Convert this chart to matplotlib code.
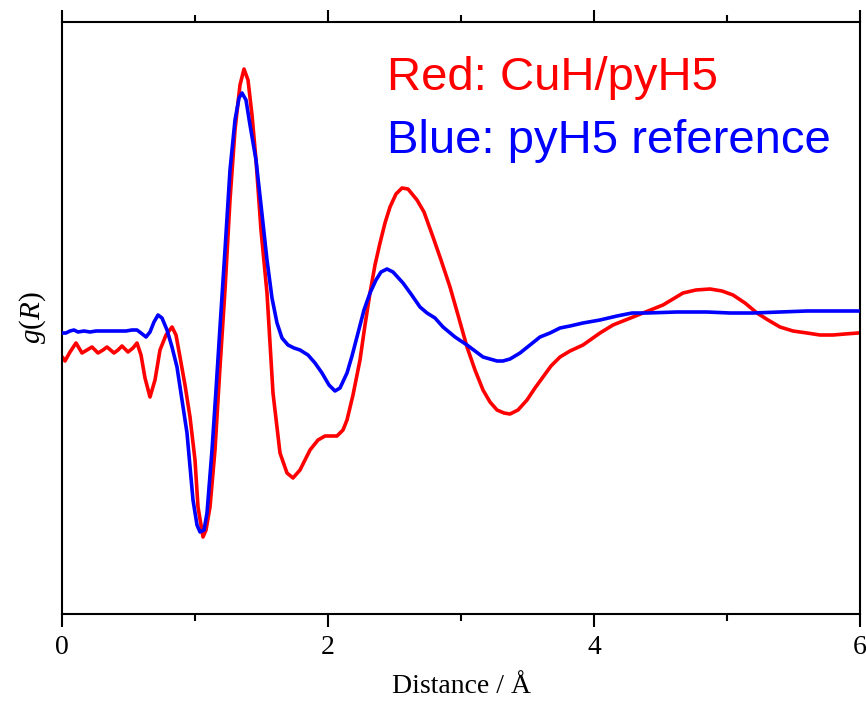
import matplotlib
matplotlib.use("Agg")
import matplotlib.pyplot as plt
import numpy as np

plt.rcParams["mathtext.fontset"] = "custom"
plt.rcParams["mathtext.it"] = "Liberation Serif:italic"
plt.rcParams["mathtext.rm"] = "Liberation Serif"

# pixel-read data converted: x in Angstrom, y in arbitrary g(R) units
red_px = [63,65,70,76,82,87,92,98,103,107,114,118,122,128,133,137,141,145,150,155,160,166,172,176,180,185,190,195,198,203,206,210,215,220,225,230,235,240,244,248,252,256,261,267,273,280,287,293,300,310,318,325,337,343,347,353,360,365,370,375,380,385,390,396,402,408,417,424,433,441,450,458,467,475,483,490,497,504,510,518,527,535,543,551,560,570,583,600,613,628,643,663,673,683,696,710,722,733,745,757,768,780,793,807,820,833,845,858]
red_py = [358,361,352,343,353,350,347,353,350,347,353,350,346,352,348,343,355,378,397,380,350,335,327,335,357,385,417,460,507,537,530,507,450,367,290,200,130,85,69,80,115,160,230,293,393,453,473,478,470,450,440,436,436,430,420,395,360,325,293,265,243,223,207,194,188,189,200,212,237,260,287,315,347,370,390,402,410,413,414,410,400,388,377,366,357,351,345,333,325,319,313,305,299,293,290,289,291,295,303,313,320,327,331,333,335,335,334,333]

blue_px = [63,66,70,74,78,84,90,96,102,108,114,120,126,132,137,141,146,150,154,158,162,167,172,177,182,187,193,197,200,204,207,212,216,220,225,230,235,239,242,246,250,256,261,267,272,277,282,288,294,300,308,315,322,329,335,340,347,352,358,364,370,376,381,387,393,403,411,420,427,435,443,455,467,475,483,490,497,503,510,520,530,540,550,560,570,583,600,617,632,647,677,707,730,753,780,807,830,858]
blue_py = [333,333,331,330,332,331,332,331,331,331,331,331,331,330,330,333,337,332,322,315,318,330,347,367,400,433,500,525,532,530,513,450,390,327,250,170,120,98,93,100,125,160,205,260,298,323,338,345,348,350,355,363,373,385,391,388,373,356,333,310,293,280,272,269,272,283,294,307,313,318,327,337,345,351,357,359,361,361,359,353,345,337,333,328,326,323,320,316,313,313,312,312,313,313,312,311,311,311]

red_x = [(p - 62) / 133.0 for p in red_px]
red_y = [(331 - p) / 100.0 for p in red_py]
blue_x = [(p - 62) / 133.0 for p in blue_px]
blue_y = [(331 - p) / 100.0 for p in blue_py]

x_ticks = [0, 2, 4, 6]
x_minor = [1, 3, 5]
xlabel = "Distance / Å"
ylabel = r"$g(R)$"
label_red = "Red: CuH/pyH5"
label_blue = "Blue: pyH5 reference"

fig = plt.figure(figsize=(8.66, 7.01), dpi=100)
ax = fig.add_axes([62/866, 87/701, 798/866, 592/701])

ax.plot(blue_x, blue_y, color="#0000ff", lw=2.6, zorder=3, solid_joinstyle="round")
ax.plot(red_x, red_y, color="#ff0000", lw=2.6, zorder=2, solid_joinstyle="round")

ax.set_xlim(0, 6)
ax.set_ylim((331 - 614) / 100.0, (331 - 22) / 100.0)

ax.set_xticks(x_ticks)
ax.set_xticks(x_minor, minor=True)
ax.set_yticks([])
ax.tick_params(axis="x", which="major", direction="out", length=9, width=1.5,
               top=True, labeltop=False, pad=6)
ax.tick_params(axis="x", which="minor", direction="out", length=5, width=1.5, top=True)
for s in ax.spines.values():
    s.set_linewidth(1.5)

serif = "Liberation Serif"
for lab in ax.get_xticklabels():
    lab.set_fontfamily(serif)
    lab.set_fontsize(20)
ax.set_xlabel(xlabel, fontfamily=serif, fontsize=20, labelpad=10)
ax.set_ylabel(ylabel, fontfamily=serif, fontsize=21, labelpad=10)

fig.text(387/866, 1 - 90/701, label_red, color="#ff0000", fontsize=34,
         fontfamily="Liberation Sans", va="baseline", ha="left")
fig.text(387/866, 1 - 153/701, label_blue, color="#0000ff", fontsize=34,
         fontfamily="Liberation Sans", va="baseline", ha="left")

fig.savefig("out.png", dpi=100)
